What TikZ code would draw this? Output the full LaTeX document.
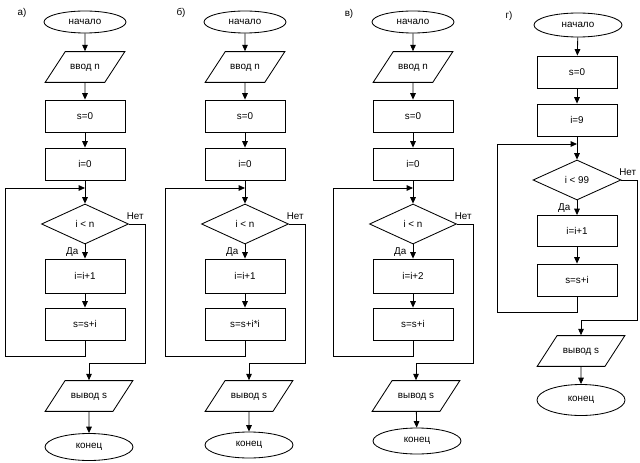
\documentclass[tikz,border=0pt]{standalone}
\usepackage{fontspec}
\setmainfont{Liberation Sans}
\usetikzlibrary{arrows.meta,shapes.geometric}

\begin{document}
\begin{tikzpicture}[x=0.25mm,y=-0.25mm,>={Triangle[length=1.6mm,width=1.4mm]},line width=0.6pt,
    every node/.style={font=\fontsize{7}{8}\selectfont},
    term/.style={draw,ellipse,inner sep=0pt,minimum width=20.5mm,minimum height=5.5mm},
    io/.style={draw,trapezium,trapezium left angle=64,trapezium right angle=116,trapezium stretches=true,
      inner xsep=0pt,inner ysep=2.7mm,text height=1.8mm,text depth=0.5mm,minimum width=20mm},
    proc/.style={draw,rectangle,inner sep=0pt,minimum width=20mm,minimum height=8mm},
    test/.style={draw,diamond,inner sep=0pt,minimum width=21.75mm,minimum height=10mm},
    lbl/.style={inner sep=1pt}]
  \useasboundingbox (0,0) rectangle (640,463);
  % ---- а) ----
  \node[lbl] (a-tag) at (22,13) {а)};
  \node[term] (a-beg) at (85,22) {начало};
  \node[io] (a-in) at (85,67) {ввод n};
  \node[proc] (a-s) at (85,116) {s=0};
  \node[proc] (a-i) at (85,164) {i=0};
  \node[test] (a-cond) at (85,224) {i < n};
  \node[proc,minimum height=8.5mm] (a-inc) at (85,276) {i=i+1};
  \node[proc] (a-sum) at (85,324) {s=s+i};
  \node[io,minimum width=22mm] (a-out) at (89,396) {вывод s};
  \node[term,minimum width=22mm,minimum height=6.75mm] (a-end) at (89,447) {конец};
  \coordinate (a-j) at (85,188); \coordinate (a-lp) at (5,356); \coordinate (a-no) at (145,363);
  \node[lbl,anchor=south west] at ([xshift=-1mm,yshift=0.6mm]a-cond.east) {Нет};
  \node[lbl,anchor=north east] at ([xshift=-1.2mm,yshift=-0.4mm]a-cond.south) {Да};
  \draw[->] (a-beg)--(a-in); \draw[->] (a-in)--(a-s); \draw[->] (a-s)--(a-i); \draw[->] (a-i)--(a-cond);
  \draw[->] (a-cond)--(a-inc); \draw[->] (a-inc)--(a-sum); \draw[->] (a-out)--(a-end);
  \draw[->] (a-sum.south) |- (a-lp) |- (a-j);
  \draw[->] (a-cond.east) -| (a-no) -| (a-out.north);
  % ---- б) ----
  \node[lbl] (b-tag) at (181,13) {б)};
  \node[term] (b-beg) at (245,22) {начало};
  \node[io] (b-in) at (245,67) {ввод n};
  \node[proc] (b-s) at (245,116) {s=0};
  \node[proc] (b-i) at (245,164) {i=0};
  \node[test] (b-cond) at (245,224) {i < n};
  \node[proc,minimum height=8.5mm] (b-inc) at (245,276) {i=i+1};
  \node[proc] (b-sum) at (245,324) {s=s+i*i};
  \node[io,minimum width=22mm] (b-out) at (249,396) {вывод s};
  \node[term,minimum width=22mm,minimum height=6.5mm] (b-end) at (249,445) {конец};
  \coordinate (b-j) at (245,188); \coordinate (b-lp) at (165,356); \coordinate (b-no) at (305,363);
  \node[lbl,anchor=south west] at ([xshift=-1mm,yshift=0.6mm]b-cond.east) {Нет};
  \node[lbl,anchor=north east] at ([xshift=-1.2mm,yshift=-0.4mm]b-cond.south) {Да};
  \draw[->] (b-beg)--(b-in); \draw[->] (b-in)--(b-s); \draw[->] (b-s)--(b-i); \draw[->] (b-i)--(b-cond);
  \draw[->] (b-cond)--(b-inc); \draw[->] (b-inc)--(b-sum); \draw[->] (b-out)--(b-end);
  \draw[->] (b-sum.south) |- (b-lp) |- (b-j);
  \draw[->] (b-cond.east) -| (b-no) -| (b-out.north);
  % ---- в) ----
  \node[lbl] (v-tag) at (349,14) {в)};
  \node[term] (v-beg) at (413,22) {начало};
  \node[io] (v-in) at (413,67) {ввод n};
  \node[proc] (v-s) at (413,116) {s=0};
  \node[proc] (v-i) at (413,164) {i=0};
  \node[test] (v-cond) at (413,224) {i < n};
  \node[proc,minimum height=8.5mm] (v-inc) at (413,276) {i=i+2};
  \node[proc] (v-sum) at (413,324) {s=s+i};
  \node[io,minimum width=22mm] (v-out) at (416,396) {вывод s};
  \node[term,minimum width=22mm,minimum height=6.5mm] (v-end) at (417,441) {конец};
  \coordinate (v-j) at (413,188); \coordinate (v-lp) at (333,356); \coordinate (v-no) at (473,363);
  \node[lbl,anchor=south west] at ([xshift=-1mm,yshift=0.6mm]v-cond.east) {Нет};
  \node[lbl,anchor=north east] at ([xshift=-1.2mm,yshift=-0.4mm]v-cond.south) {Да};
  \draw[->] (v-beg)--(v-in); \draw[->] (v-in)--(v-s); \draw[->] (v-s)--(v-i); \draw[->] (v-i)--(v-cond);
  \draw[->] (v-cond)--(v-inc); \draw[->] (v-inc)--(v-sum); \draw[->] (v-out)--(v-end);
  \draw[->] (v-sum.south) |- (v-lp) |- (v-j);
  \draw[->] (v-cond.east) -| (v-no) -| (v-out.north);
  % ---- г) ----
  \node[lbl] (g-tag) at (509,16) {г)};
  \node[term,minimum width=22mm,minimum height=6mm] (g-beg) at (578,25) {начало};
  \node[proc] (g-s) at (577,72) {s=0};
  \node[proc] (g-i) at (577,120) {i=9};
  \node[test,minimum width=22mm] (g-cond) at (577,180) {i < 99};
  \node[proc,minimum height=7.75mm] (g-inc) at (577,231) {i=i+1};
  \node[proc] (g-sum) at (577,280) {s=s+i};
  \node[io,minimum width=22mm] (g-out) at (581,351) {вывод s};
  \node[term,minimum width=22mm,minimum height=7.75mm] (g-end) at (581,400) {конец};
  \coordinate (g-j) at (577,144); \coordinate (g-lp) at (497,312); \coordinate (g-no) at (637,320);
  \node[lbl,anchor=south west] at ([xshift=-1mm,yshift=0.6mm]g-cond.east) {Нет};
  \node[lbl,anchor=north east] at ([xshift=-1.2mm,yshift=-0.4mm]g-cond.south) {Да};
  \draw[->] (g-beg)--(g-s); \draw[->] (g-s)--(g-i); \draw[->] (g-i)--(g-cond);
  \draw[->] (g-cond)--(g-inc); \draw[->] (g-inc)--(g-sum); \draw[->] (g-out)--(g-end);
  \draw[->] (g-sum.south) |- (g-lp) |- (g-j);
  \draw[->] (g-cond.east) -| (g-no) -| (g-out.north);
\end{tikzpicture}
\end{document}
